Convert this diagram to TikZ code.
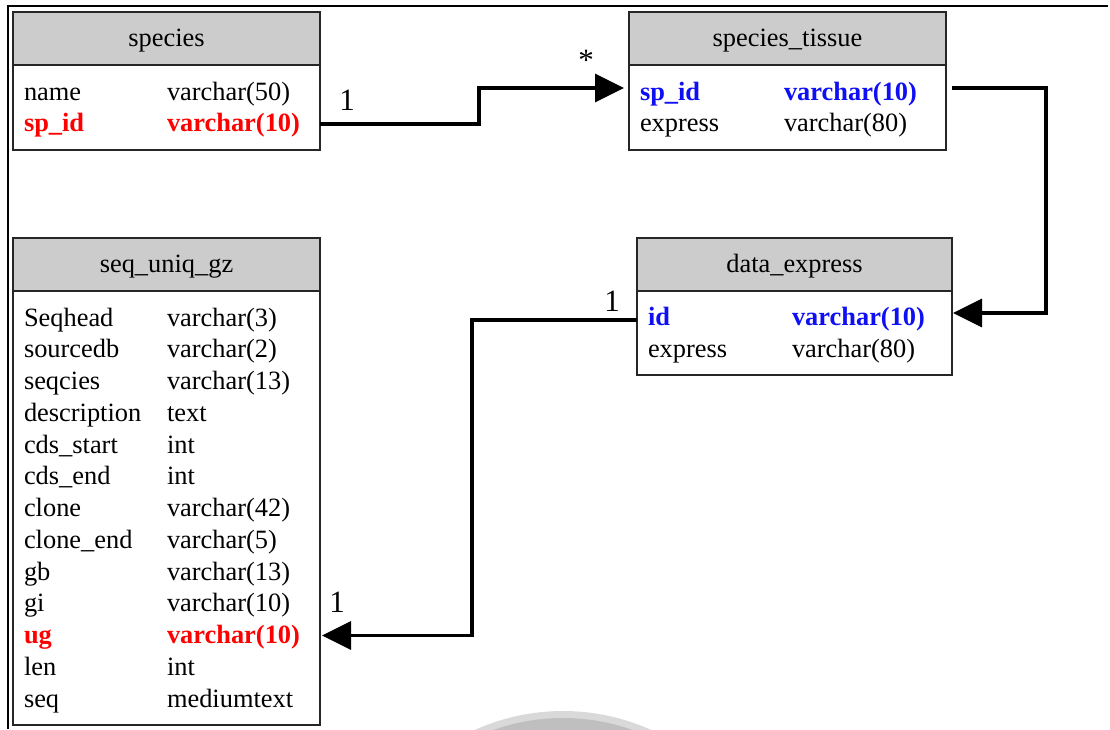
\documentclass[tikz,border=0pt]{standalone}
\usepackage{fontspec}
\setmainfont{Liberation Serif}
\usetikzlibrary{arrows.meta,calc}
\definecolor{hdrgray}{HTML}{CCCCCC}
\definecolor{keyred}{HTML}{FF0000}
\definecolor{keyblue}{HTML}{0F0FF5}
\begin{document}
\begin{tikzpicture}[x=1pt,y=-1pt,
  every node/.style={inner sep=0pt, outer sep=0pt},
  tablehead/.style={draw=black!85, line width=1.6pt, fill=hdrgray, anchor=north west,
    minimum height=53pt},
  tablebody/.style={draw=black!85, line width=1.6pt, fill=white, anchor=north west},
  txt/.style={font=\fontsize{26.4}{30}\selectfont},
  title/.style={txt, anchor=base},
  field/.style={txt, anchor=base west},
  redkey/.style={field, font=\fontsize{26.4}{30}\selectfont\bfseries, text=keyred},
  bluekey/.style={field, font=\fontsize{26.4}{30}\selectfont\bfseries, text=keyblue},
  card/.style={font=\fontsize{31}{34}\selectfont, anchor=base},
  link/.style={line width=3.2pt, line join=miter,
    -{Triangle[length=29pt 0 0, width=28pt 0 0]}}
]
\useasboundingbox (0,0) rectangle (1110,729);

% faint seal at the bottom edge
\begin{scope}
  \clip (0,0) rectangle (1110,729);
  \fill[gray!30] (563,925) circle (214pt);
  \fill[gray!50] (563,925) circle (207pt);
\end{scope}

% page frame
\draw[line width=2.5pt] (8,729) -- (8,6) -- (1108,6);

% ---- species ----
\node[tablehead, minimum width=307pt] (sp-head) at (13,12) {};
\node[title] (sp-title) at (166.5,46) {species};
\node[tablebody, minimum width=307pt, minimum height=85pt] (sp-body) at (13,65) {};
\node[field] (sp-name) at (24,100) {name};
\node[field] (sp-name-t) at (167,100) {varchar(50)};
\node[redkey] (sp-spid) at (24,131) {sp\_id};
\node[redkey] (sp-spid-t) at (167,131) {varchar(10)};

% ---- species_tissue ----
\node[tablehead, minimum width=317pt] (st-head) at (629,12) {};
\node[title] (st-title) at (787.5,46) {species\_tissue};
\node[tablebody, minimum width=317pt, minimum height=85pt] (st-body) at (629,65) {};
\node[bluekey] (st-spid) at (640,100) {sp\_id};
\node[bluekey] (st-spid-t) at (784,100) {varchar(10)};
\node[field] (st-express) at (640,131) {express};
\node[field] (st-express-t) at (784,131) {varchar(80)};

% ---- data_express ----
\node[tablehead, minimum width=315pt] (de-head) at (637,238) {};
\node[title] (de-title) at (794.5,272) {data\_express};
\node[tablebody, minimum width=315pt, minimum height=84pt] (de-body) at (637,291) {};
\node[bluekey] (de-id) at (648,325) {id};
\node[bluekey] (de-id-t) at (792,325) {varchar(10)};
\node[field] (de-express) at (648,357) {express};
\node[field] (de-express-t) at (792,357) {varchar(80)};

% ---- seq_uniq_gz ----
\node[tablehead, minimum width=307pt] (sq-head) at (13,238) {};
\node[title] (sq-title) at (166.5,272) {seq\_uniq\_gz};
\node[tablebody, minimum width=307pt, minimum height=434pt] (sq-body) at (13,291) {};
\foreach \k/\t/\s [count=\i] in {
    Seqhead/varchar(3)/field,
    sourcedb/varchar(2)/field,
    seqcies/varchar(13)/field,
    description/text/field,
    cds\_start/int/field,
    cds\_end/int/field,
    clone/varchar(42)/field,
    clone\_end/varchar(5)/field,
    gb/varchar(13)/field,
    gi/varchar(10)/field,
    ug/varchar(10)/redkey,
    len/int/field,
    seq/mediumtext/field} {
  \node[\s] (sq-k\i) at (24,{326+31.75*(\i-1)}) {\k};
  \node[\s] (sq-t\i) at (167,{326+31.75*(\i-1)}) {\t};
}

% ---- connection ports ----
\coordinate (sp-out) at ($(sp-body.east |- sp-spid.base)+(0,-7)$);
\coordinate (st-in)  at ($(st-body.west |- st-spid.base)+(-5,-12)$);
\coordinate (st-out) at ($(st-body.east |- st-spid.base)+(6,-12)$);
\coordinate (de-in)  at ($(de-body.east |- de-id.base)+(1,-12)$);
\coordinate (de-out) at ($(de-body.west |- de-id.base)+(0,-5)$);
\coordinate (sq-in)  at ($(sq-body.east |- sq-k11.base)+(2,-8)$);

% ---- relationships ----
\draw[link] (sp-out) -- ++(159,0) |- (st-in);
\draw[link] (st-out) -- ++(94,0) |- (de-in);
\draw[link] (de-out) -- ++(-165,0) |- (sq-in);

% ---- cardinalities ----
\node[card] (c-sp) at (347,110) {1};
\node[card] (c-st) at (586,70) {*};
\node[card] (c-de) at (612,311) {1};
\node[card] (c-sq) at (337,612) {1};
\end{tikzpicture}
\end{document}
